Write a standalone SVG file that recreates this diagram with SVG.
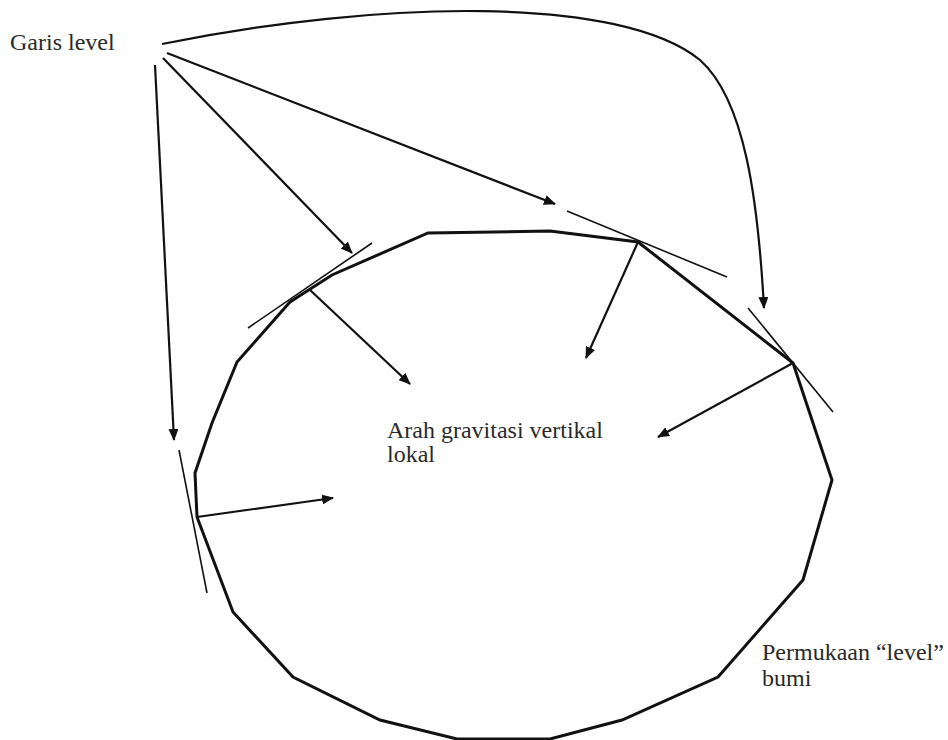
<svg xmlns="http://www.w3.org/2000/svg" width="948" height="740" viewBox="0 0 948 740">
<style>
.lbl{font-family:"Liberation Serif","Times New Roman",serif;font-size:24px;fill:#2a2a2a}
.earth{fill:none;stroke:#111;stroke-width:3;stroke-linejoin:miter}
.tan{stroke:#111;stroke-width:1.6;fill:none}
.arr{stroke:#111;stroke-width:2.2;fill:none;marker-end:url(#ah)}
</style>
<defs>
<marker id="ah" viewBox="0 0 12 10" refX="11" refY="5" markerWidth="12" markerHeight="10" markerUnits="userSpaceOnUse" orient="auto">
<path d="M0,0 L12,5 L0,10 z" fill="#111"/>
</marker>
</defs>
<rect width="948" height="740" fill="#fff"/>
<g id="earth">
<polygon class="earth" points="428,233 550,231 638,242 793,363 832,480 803,580 718,677 622,720 550,739 457,739 380,720 293,677 233,612 197,517 195,473 212,423 237,362 290,302 332,275"/>
</g>
<g id="tangents">
<line class="tan" x1="248" y1="328" x2="372" y2="243"/>
<line class="tan" x1="567" y1="211" x2="727" y2="277"/>
<line class="tan" x1="748" y1="308" x2="833" y2="412"/>
<line class="tan" x1="179" y1="450" x2="207" y2="593"/>
</g>
<g id="connectors">
<path class="arr" d="M162,44 C380,0 620,-5 700,60 C745,100 758,200 764,308"/>
<line class="arr" x1="167" y1="53" x2="555" y2="204"/>
<line class="arr" x1="163" y1="58" x2="352" y2="253"/>
<line class="arr" x1="155" y1="65" x2="174" y2="440"/>
<line class="arr" x1="310" y1="290" x2="410" y2="384"/>
<line class="arr" x1="638" y1="242" x2="586" y2="358"/>
<line class="arr" x1="793" y1="363" x2="658" y2="437"/>
<line class="arr" x1="197" y1="517" x2="333" y2="498"/>
</g>
<g id="label-garis">
<text class="lbl" x="10" y="50">Garis level</text>
</g>
<g id="label-arah">
<text class="lbl" x="387" y="438">Arah gravitasi vertikal</text>
<text class="lbl" x="387" y="462">lokal</text>
</g>
<g id="label-permukaan">
<text class="lbl" x="762" y="660">Permukaan “level”</text>
<text class="lbl" x="762" y="686">bumi</text>
</g>
</svg>
